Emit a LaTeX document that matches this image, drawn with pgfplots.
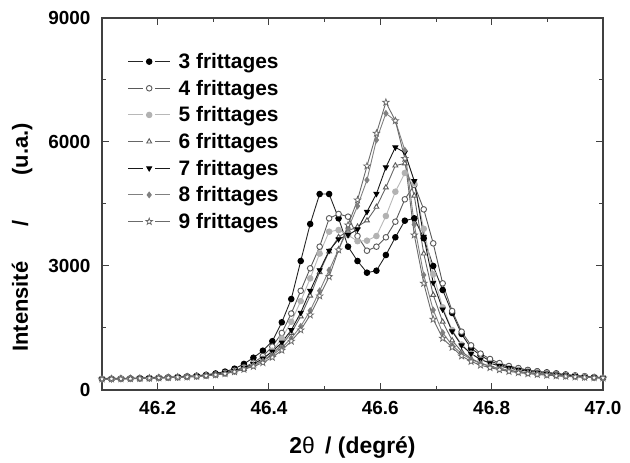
\documentclass[border=0pt]{standalone}
\usepackage{fontspec}
\setmainfont{Liberation Sans}
\usepackage{pgfplots}
\pgfplotsset{compat=1.18}
\usepackage{pgfplotstable}

\pgfdeclareplotmark{ostar}{%
  \pgfpathmoveto{\pgfpointpolar{90}{1.25\pgfplotmarksize}}%
  \pgfpathlineto{\pgfpointpolar{126}{0.5\pgfplotmarksize}}%
  \pgfpathlineto{\pgfpointpolar{162}{1.25\pgfplotmarksize}}%
  \pgfpathlineto{\pgfpointpolar{198}{0.5\pgfplotmarksize}}%
  \pgfpathlineto{\pgfpointpolar{234}{1.25\pgfplotmarksize}}%
  \pgfpathlineto{\pgfpointpolar{270}{0.5\pgfplotmarksize}}%
  \pgfpathlineto{\pgfpointpolar{306}{1.25\pgfplotmarksize}}%
  \pgfpathlineto{\pgfpointpolar{342}{0.5\pgfplotmarksize}}%
  \pgfpathlineto{\pgfpointpolar{18}{1.25\pgfplotmarksize}}%
  \pgfpathlineto{\pgfpointpolar{54}{0.5\pgfplotmarksize}}%
  \pgfpathclose
  \pgfusepathqfillstroke}

\pgfplotstableread{
x s3 s4 s5 s6 s7 s8 s9
46.100 270 265 262 265 268 263 265
46.117 272 268 265 268 270 266 267
46.134 276 272 269 271 274 270 271
46.151 280 276 273 275 278 274 275
46.168 285 281 278 280 283 279 280
46.185 291 287 284 285 289 284 285
46.202 298 294 290 292 296 291 292
46.219 306 302 298 300 304 298 300
46.236 316 311 307 308 313 306 308
46.253 328 322 318 318 324 316 318
46.270 345 336 330 330 338 328 330
46.287 368 354 346 346 356 344 345
46.304 400 378 368 366 380 366 365
46.321 445 415 405 398 412 400 395
46.338 515 470 455 445 460 450 440
46.355 630 550 520 505 530 515 500
46.372 781 660 620 590 630 600 570
46.389 951 820 760 710 760 700 660
46.406 1180 1050 950 870 930 840 790
46.423 1638 1380 1250 1090 1150 1020 960
46.440 2201 1850 1650 1380 1450 1250 1180
46.457 3121 2400 2150 1780 1870 1540 1451
46.474 4016 2944 2700 2280 2400 1920 1814
46.491 4741 3467 3300 2850 2900 2400 2274
46.508 4741 4153 3830 3350 3370 2900 2741
46.525 4153 4258 3870 3700 3650 3400 3387
46.542 3467 4193 3750 3850 3750 3900 3991
46.559 3121 3725 3600 3950 3887 4450 4596
46.576 2838 3370 3612 4100 4313 5080 5419
46.593 2886 3467 3725 4430 4746 6048 6210
46.610 3266 3694 4209 4900 5387 6693 6960
46.627 3694 4072 4797 5430 5871 6514 6514
46.644 4096 4613 5250 5480 5745 5800 5600
46.661 4153 4959 5000 4700 5056 4000 3749
46.678 3670 4370 3900 3300 3708 2782 2580
46.695 3000 3548 2800 2300 2596 1935 1710
46.712 2419 2580 2000 1650 1950 1386 1250
46.729 1863 1911 1450 1200 1420 1080 1033
46.746 1355 1411 1100 930 1080 880 822
46.763 1009 1080 880 760 880 740 690
46.780 840 880 740 650 740 640 600
46.797 700 750 650 575 650 570 540
46.814 615 650 580 520 580 515 490
46.831 560 580 530 478 530 472 450
46.848 520 530 490 445 490 438 420
46.865 480 485 455 418 455 410 395
46.882 450 450 425 395 425 388 375
46.899 425 420 400 375 400 368 358
46.916 400 395 375 358 378 350 343
46.933 375 370 355 342 358 335 330
46.950 350 350 338 328 340 321 318
46.967 330 330 320 315 322 308 307
46.984 310 310 305 302 306 297 298
47.000 295 295 290 290 292 287 290
}\data

\begin{document}
\begin{tikzpicture}
\begin{axis}[
  width=501bp, height=372bp, scale only axis,
  xmin=46.1, xmax=47.0, ymin=0, ymax=9000,
  xtick={46.2,46.4,46.6,46.8,47.0},
  minor x tick num=1,
  ytick={0,3000,6000,9000},
  minor ytick={1500,4500,7500},
  tick align=inside,
  major tick length=7bp, minor tick length=4bp,
  axis line style={line width=1.3bp, black!75},
  every tick/.style={line width=1bp, black!75},
  /pgf/number format/assume math mode=true,
  tick label style={font=\fontsize{19}{22}\selectfont\bfseries},
  x tick label style={/pgf/number format/fixed, /pgf/number format/fixed zerofill, /pgf/number format/precision=1, yshift=-8bp},
  y tick label style={/pgf/number format/1000 sep={}, xshift=-8bp},
  scaled ticks=false,
  xlabel={2{\mdseries θ}\hspace{0.45em}/ (degré)},
  ylabel={Intensité\hspace{1.6em}/\hspace{2.05em}(u.a.)},
  every axis x label/.style={at={(axis description cs:0.5,-0.156)}, anchor=center,
    font=\fontsize{23}{27}\selectfont\bfseries},
  every axis y label/.style={at={(axis description cs:-0.1597,0.41)}, anchor=center, rotate=90,
    font=\fontsize{22}{26}\selectfont\bfseries},
  legend style={at={(axis description cs:0.051,0.911)}, anchor=north west, draw=none, fill=none,
    inner sep=0pt, row sep=6bp, font=\fontsize{21}{24}\selectfont\bfseries,
    nodes={inner sep=2bp}},
  legend cell align=left,
  legend image code/.code={%
    \draw[#1, mark=none] (0bp,0bp) -- (15bp,0bp);
    \draw[#1, mark=none] (27bp,0bp) -- (42bp,0bp);
    \draw[#1, only marks] plot coordinates {(21bp,0bp)};
    \path (48bp,0bp);},
  every axis plot/.append style={line width=0.9bp, mark size=2.8bp},
]
\addplot[draw=black!85, mark=*, mark options={fill=black, draw=black}] table[x=x,y=s3] {\data};
\addlegendentry{3 frittages}
\addplot[draw=black!65, mark=*, mark options={fill=white, draw=black!65}] table[x=x,y=s4] {\data};
\addlegendentry{4 frittages}
\addplot[draw=black!28, mark=*, mark options={fill=black!30, draw=black!30}] table[x=x,y=s5] {\data};
\addlegendentry{5 frittages}
\addplot[draw=black!60, mark=triangle*, mark options={fill=white, draw=black!65}] table[x=x,y=s6] {\data};
\addlegendentry{6 frittages}
\addplot[draw=black!90, mark=triangle*, mark options={fill=black, draw=black, rotate=180}] table[x=x,y=s7] {\data};
\addlegendentry{7 frittages}
\addplot[draw=black!50, mark=diamond*, mark options={fill=black!50, draw=black!50}] table[x=x,y=s8] {\data};
\addlegendentry{8 frittages}
\addplot[draw=black!58, mark=ostar, mark options={fill=white, draw=black!60, line width=0.7bp}] table[x=x,y=s9] {\data};
\addlegendentry{9 frittages}
\end{axis}
\path (current axis.south west) +(-102bp,-69bp);
\path (current axis.north east) +(27bp,18bp);
\end{tikzpicture}
\end{document}
